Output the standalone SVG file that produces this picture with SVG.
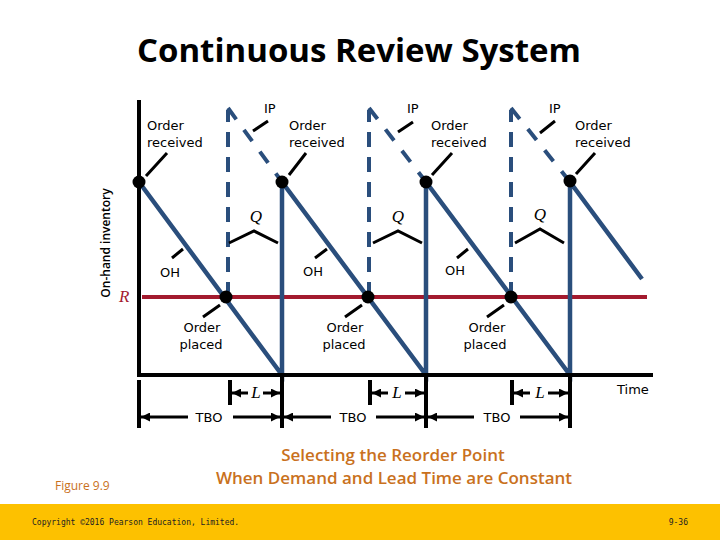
<svg xmlns="http://www.w3.org/2000/svg" width="720" height="540" viewBox="0 0 720 540">
<defs>
<style>
.lbl{font-family:"DejaVu Sans",Verdana,sans-serif;font-size:13px;fill:#000}
.it{font-family:"Liberation Serif","Times New Roman",serif;font-style:italic;font-size:17px}
.saw{stroke:#2a4e7c;stroke-width:4.5;fill:none}
.dash{stroke:#2a4e7c;stroke-width:4;fill:none;stroke-dasharray:15 10}
.dashd{stroke:#2a4e7c;stroke-width:4;fill:none;stroke-dasharray:14 13}
.lead{stroke:#000;stroke-width:3;fill:none}
.blk{stroke:#000;stroke-width:4;fill:none}
.arr{stroke:#000;stroke-width:3;fill:none;marker-end:url(#ah)}
.dot{fill:#000}
</style>
<marker id="ah" viewBox="0 0 10 10" refX="10" refY="5" markerUnits="userSpaceOnUse" markerWidth="9" markerHeight="9" orient="auto">
<path d="M0,0 L10,5 L0,10 z" fill="#000"/>
</marker>
</defs>
<rect width="720" height="540" fill="#fff"/>
<text x="359" y="62" text-anchor="middle" font-family="'Open Sans','Noto Sans',sans-serif" font-weight="700" font-size="33" fill="#000">Continuous Review System</text>

<g id="connectors">
<!-- dashed IP lines -->
<path class="dash" d="M228,297 V110"/><path class="dashd" d="M228,108 L282,182"/>
<path class="dash" d="M369,297 V110"/><path class="dashd" d="M369,108 L426,182"/>
<path class="dash" d="M511,297 V110"/><path class="dashd" d="M511,108 L570,182"/>
<!-- R line -->
<line x1="142" y1="297" x2="647" y2="297" stroke="#a31a2e" stroke-width="4"/>
<!-- sawtooth -->
<path class="saw" d="M139,182 L282,375 V182 L426,375 V182 L570,375 V182 L642,279"/>
<!-- axes -->
<path class="blk" d="M139,100 V377 M137,375 H653"/>
<!-- ticks -->
<path class="blk" d="M139,380 V428 M282,373 V428 M426,373 V428 M570,373 V428 M230,380 V405 M370,380 V405 M512,380 V405"/>
<!-- L arrows -->
<path class="arr" d="M248,393 H232"/><path class="arr" d="M263,393 H280"/>
<path class="arr" d="M388,393 H372"/><path class="arr" d="M405,393 H424"/>
<path class="arr" d="M530,393 H514"/><path class="arr" d="M548,393 H568"/>
<!-- TBO arrows -->
<path class="arr" d="M188,417 H141"/><path class="arr" d="M233,417 H280"/>
<path class="arr" d="M331,417 H284"/><path class="arr" d="M376,417 H424"/>
<path class="arr" d="M474,417 H428"/><path class="arr" d="M520,417 H568"/>
<!-- leaders -->
<path class="lead" d="M253,131 L268,121 M398,132 L413,122 M540,133 L555,121"/>
<path class="lead" d="M146,176 L167,153 M289,175 L306,153 M432,175 L452,153 M576,174 L595,153"/>
<path class="lead" d="M229,243 L254,231 L278,243 M373,243 L398,231 L422,243 M515,243 L540,229 L564,243"/>
<path class="lead" d="M172,258 L183,249 M315,258 L327,249 M457,258 L468,249"/>
<path class="lead" d="M203,317 L220,305 M345,317 L362,305 M487,317 L504,305"/>
</g>

<g id="order-received-1"><circle class="dot" cx="139" cy="182" r="6.5"/><text class="lbl" x="147" y="130">Order</text><text class="lbl" x="147" y="147">received</text></g>
<g id="order-received-2"><circle class="dot" cx="282" cy="182" r="6.5"/><text class="lbl" x="289" y="130">Order</text><text class="lbl" x="289" y="147">received</text></g>
<g id="order-received-3"><circle class="dot" cx="426" cy="182" r="6.5"/><text class="lbl" x="431" y="130">Order</text><text class="lbl" x="431" y="147">received</text></g>
<g id="order-received-4"><circle class="dot" cx="570" cy="181" r="6.5"/><text class="lbl" x="575" y="130">Order</text><text class="lbl" x="575" y="147">received</text></g>

<g id="order-placed-1"><circle class="dot" cx="226" cy="297" r="6.5"/><text class="lbl" x="202" y="332" text-anchor="middle">Order</text><text class="lbl" x="201" y="349" text-anchor="middle">placed</text></g>
<g id="order-placed-2"><circle class="dot" cx="368" cy="297" r="6.5"/><text class="lbl" x="345" y="332" text-anchor="middle">Order</text><text class="lbl" x="344" y="349" text-anchor="middle">placed</text></g>
<g id="order-placed-3"><circle class="dot" cx="511" cy="297" r="6.5"/><text class="lbl" x="487" y="332" text-anchor="middle">Order</text><text class="lbl" x="485" y="349" text-anchor="middle">placed</text></g>

<g id="ip-labels">
<text class="lbl" x="264" y="113">IP</text>
<text class="lbl" x="407" y="113">IP</text>
<text class="lbl" x="549" y="113">IP</text>
</g>
<g id="q-labels">
<text class="it" x="256" y="222" text-anchor="middle">Q</text>
<text class="it" x="398" y="222" text-anchor="middle">Q</text>
<text class="it" x="540" y="220" text-anchor="middle">Q</text>
</g>
<g id="oh-labels">
<text class="lbl" x="160" y="277">OH</text>
<text class="lbl" x="303" y="276">OH</text>
<text class="lbl" x="445" y="275">OH</text>
</g>
<g id="r-label"><text class="it" x="119" y="302" fill="#a31a2e">R</text></g>
<g id="l-labels">
<text class="it" x="256" y="398" text-anchor="middle">L</text>
<text class="it" x="397" y="398" text-anchor="middle">L</text>
<text class="it" x="540" y="398" text-anchor="middle">L</text>
</g>
<g id="tbo-labels">
<text class="lbl" x="209" y="422" text-anchor="middle">TBO</text>
<text class="lbl" x="353" y="422" text-anchor="middle">TBO</text>
<text class="lbl" x="497" y="422" text-anchor="middle">TBO</text>
</g>
<g id="time-label"><text class="lbl" x="617" y="394">Time</text></g>
<g id="y-label"><text x="110" y="243" transform="rotate(-90 110 243)" text-anchor="middle" font-family="'Open Sans','DejaVu Sans',sans-serif" font-weight="600" font-size="12" fill="#000">On-hand inventory</text></g>

<g id="caption" font-family="'Open Sans','Liberation Sans',sans-serif" font-weight="600" fill="#c9711d">
<text x="393" y="461" text-anchor="middle" font-size="17">Selecting the Reorder Point</text>
<text x="394" y="484" text-anchor="middle" font-size="17">When Demand and Lead Time are Constant</text>
<text x="55" y="490" font-size="12" font-weight="400">Figure 9.9</text>
</g>

<g id="footer">
<rect x="0" y="504" width="720" height="36" fill="#fdc100"/>
<text x="32" y="525" font-family="'DejaVu Sans Mono','Liberation Mono',monospace" font-size="8" fill="#222">Copyright ©2016 Pearson Education, Limited.</text>
<text x="688" y="525" text-anchor="end" font-family="'DejaVu Sans Mono','Liberation Mono',monospace" font-size="8" fill="#222">9-36</text>
</g>
</svg>
